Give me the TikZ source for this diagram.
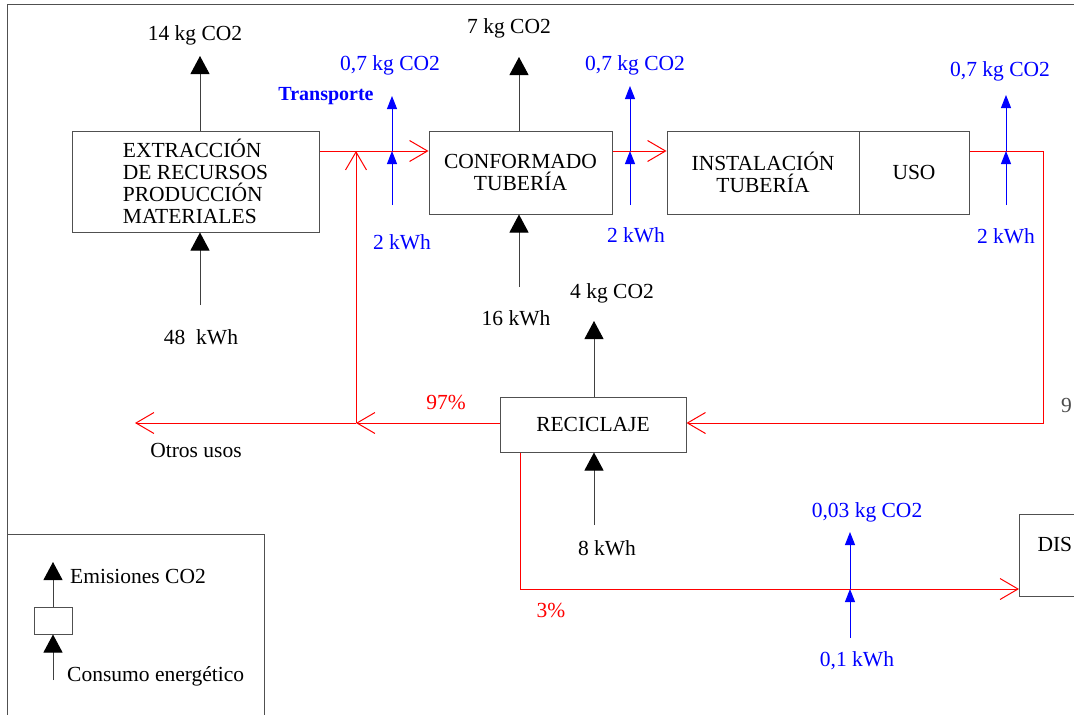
\documentclass[tikz,border=0pt]{standalone}
\usepackage{fontspec}
\setmainfont{Liberation Serif}
\usetikzlibrary{arrows.meta}
\definecolor{frameg}{RGB}{80,80,80}

\begin{document}
\begin{tikzpicture}[x=1pt,y=-1pt,
  every node/.style={font=\fontsize{21.5}{22}\selectfont, inner sep=0pt},
  proc/.style={draw=frameg, line width=1pt, align=center},
  emis/.style={draw=black!75, line width=1pt, -{Triangle[length=18pt,width=19pt,color=black]}},
  flow/.style={draw=red, line width=1pt, -{Straight Barb[length=18pt,width=21pt]}},
  trans/.style={draw=blue, line width=1pt, -{Triangle[length=13pt,width=10pt]}}]
\useasboundingbox (0,0) rectangle (1074,715);
\clip (0,0) rectangle (1074,715);
% marco
\draw[frameg, line width=1pt] (7,720) -- (7,4) -- (1080,4);

% procesos
\node[proc, minimum width=247, minimum height=101, align=left] (ext) at (195.5,181.5)
  {EXTRACCIÓN\\DE RECURSOS\\PRODUCCIÓN\\MATERIALES};
\node[proc, minimum width=183, minimum height=83] (conf) at (520.5,172.5) {CONFORMADO\\TUBERÍA};
\node[proc, minimum width=192, minimum height=83] (inst) at (763,172.5) {INSTALACIÓN\\TUBERÍA};
\node[proc, minimum width=110, minimum height=83] (uso) at (914,172.5) {USO};
\node[proc, minimum width=186, minimum height=55] (reci) at (593,424.5) {RECICLAJE};
\node[proc, anchor=north west, minimum height=82, text width=70, inner xsep=18pt, align=left] (dis)
  at (1019,514) {DIS\\\mbox{}};

% emisiones y consumos
\node (co1) at (195,35) {14 kg CO2};
\node (kw1) at (201,337) {48~~kWh};
\coordinate (e1t) at (200,56);
\coordinate (e1b) at (200,305);
\draw[emis] (e1t |- ext.north) -- (e1t);
\draw[emis] (e1b) -- (e1b |- ext.south);

\node (co2) at (509,28) {7 kg CO2};
\node (kw2) at (516,318) {16 kWh};
\coordinate (e2t) at (519,57);
\coordinate (e2b) at (519,287);
\draw[emis] (e2t |- conf.north) -- (e2t);
\draw[emis] (e2b) -- (e2b |- conf.south);

\node (co3) at (612,293) {4 kg CO2};
\node (kw3) at (607,548) {8 kWh};
\coordinate (e3t) at (594,321);
\coordinate (e3b) at (594,525);
\draw[emis] (e3t |- reci.north) -- (e3t);
\draw[emis] (e3b) -- (e3b |- reci.south);

% flujos de material
\coordinate (ya) at (0,151);
\coordinate (cr) at (1043,151);
\coordinate (jn) at (356,423);
\coordinate (ot) at (135,423);
\coordinate (rb) at (520,589);
\draw[flow] (ext.east |- ya) -- (conf.west |- ya);
\draw[flow] (conf.east |- ya) -- (inst.west |- ya);
\draw[flow] (uso.east |- ya) -- (cr) |- (reci.east |- jn);
\draw[flow] (reci.west |- jn) -- (jn);
\draw[flow] (jn) -- (ot);
\draw[flow] (jn) -- (jn |- ya);
\draw[flow] (reci.south -| rb) -- (rb) -- (dis.west |- rb);
\node[text=red] (p97) at (446,402) {97\%};
\node[text=red] (p3) at (551,610) {3\%};
\node (otros) at (196,450) {Otros usos};
\node[anchor=west, text=black!70] (cut) at (1061,405) {9};

% transporte
\node[text=blue, font=\fontsize{20}{22}\selectfont\bfseries] (tra) at (326,96) {Transporte};
\node[text=blue] (tc1) at (390,65) {0,7 kg CO2};
\node[text=blue] (tk1) at (402,242) {2 kWh};
\coordinate (t1t) at (392,96);
\coordinate (t1b) at (392,205);
\draw[trans] (t1b) -- (t1b |- ya);
\draw[trans] (t1b |- ya) -- (t1t);

\node[text=blue] (tc2) at (635,65) {0,7 kg CO2};
\node[text=blue] (tk2) at (636,235) {2 kWh};
\coordinate (t2t) at (630,86);
\coordinate (t2b) at (630,205);
\draw[trans] (t2b) -- (t2b |- ya);
\draw[trans] (t2b |- ya) -- (t2t);

\node[text=blue] (tc3) at (1000,71) {0,7 kg CO2};
\node[text=blue] (tk3) at (1006,236) {2 kWh};
\coordinate (t3t) at (1006,95);
\coordinate (t3b) at (1006,205);
\draw[trans] (t3b) -- (t3b |- ya);
\draw[trans] (t3b |- ya) -- (t3t);

\node[text=blue] (tc4) at (867,512) {0,03 kg CO2};
\node[text=blue] (tk4) at (857,661) {0,1 kWh};
\coordinate (t4t) at (850,532);
\coordinate (t4b) at (850,638);
\draw[trans] (t4b) -- (t4b |- rb);
\draw[trans] (t4b |- rb) -- (t4t);

% leyenda
\draw[frameg, line width=1pt] (7,534) -- (264,534) -- (264,720);
\node[proc, minimum width=38, minimum height=27] (lg) at (53,620.5) {};
\coordinate (lgt) at (53,562);
\coordinate (lgb) at (53,680);
\draw[emis] (lg.north) -- (lgt);
\draw[emis] (lgb) -- (lg.south);
\node[anchor=west] (lem) at (70,576) {Emisiones CO2};
\node[anchor=west] (lcon) at (67,676) {Consumo energético};
\end{tikzpicture}
\end{document}
